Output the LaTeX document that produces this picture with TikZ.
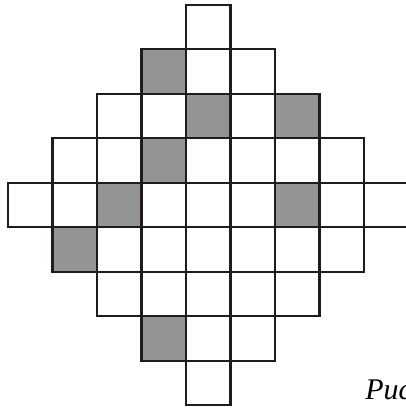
\documentclass[tikz,border=0pt]{standalone}
\usepackage{fontspec}
\newfontfamily\capfont{Liberation Serif}
\definecolor{cellgray}{RGB}{147,148,150}
\definecolor{linegray}{RGB}{30,28,30}
\tikzset{
  cell/.style={draw=linegray, line width=1.6pt, fill=white, minimum size=44.5*0.75pt, inner sep=0pt, outer sep=0pt, anchor=north west},
  graycell/.style={cell, fill=cellgray},
  captext/.style={font=\capfont\itshape\fontsize{22.5}{25}\selectfont, inner sep=0pt, anchor=base west}
}
\begin{document}
\begin{tikzpicture}[x=0.75pt,y=-0.75pt]
\useasboundingbox (0,0) rectangle (406,408);
\clip (0,0) rectangle (406,408);
% rows: j -> first col / last col
\foreach \j/\a/\b in {0/4/4,1/3/5,2/2/6,3/1/7,4/0/8,5/1/7,6/2/6,7/3/5,8/4/4}{
  \foreach \i in {\a,...,\b}{
    \node[cell] (c-\j-\i) at ({8+44.5*\i},{4.7+44.5*\j}) {};
  }
}
\foreach \j/\i in {1/3,2/4,2/6,3/3,4/2,4/6,5/1,7/3}{
  \node[graycell] (g-\j-\i) at ({8+44.5*\i},{4.7+44.5*\j}) {};
}
\node[captext] (cap) at (365,399.5) {Рис};
\end{tikzpicture}
\end{document}
